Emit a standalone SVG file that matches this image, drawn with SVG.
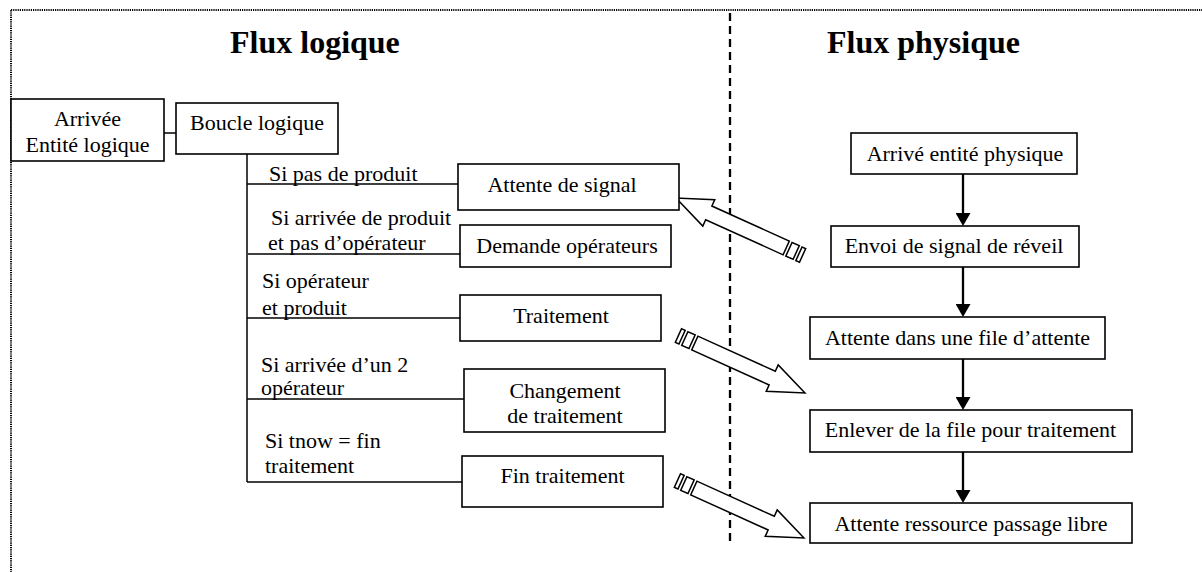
<svg xmlns="http://www.w3.org/2000/svg" width="1202" height="572" viewBox="0 0 1202 572">
<style>
  .box { fill: #ffffff; stroke: #000000; stroke-width: 1.6; }
  .t { font-family: "Liberation Serif", "Times New Roman", serif; font-size: 22px; fill: #000000; }
  .c { text-anchor: middle; }
  .title { font-family: "Liberation Serif", "Times New Roman", serif; font-size: 32px; font-weight: bold; fill: #000000; }
  .line { stroke: #000000; stroke-width: 1.5; fill: none; }
  .flow { stroke: #000000; stroke-width: 2.3; fill: none; marker-end: url(#head); }
  .blk { fill: #ffffff; stroke: #000000; stroke-width: 1.5; stroke-linejoin: miter; }
</style>
<defs>
  <marker id="head" markerUnits="userSpaceOnUse" viewBox="0 0 13 15" refX="3" refY="7.5" markerWidth="13" markerHeight="15" orient="auto">
    <path d="M0,0 L13,7.5 L0,15 Z" fill="#000000"/>
  </marker>
  <g id="striped-arrow">
    <path class="blk" d="M0,0 L-36,-14.5 L-36,-7.5 L-121,-7.5 L-121,7.5 L-36,7.5 L-36,14.5 Z"/>
    <rect class="blk" x="-132" y="-7.5" width="8" height="15"/>
    <rect class="blk" x="-139" y="-7.5" width="4" height="15"/>
  </g>
</defs>
<rect width="1202" height="572" fill="#ffffff"/>
<rect x="11" y="10" width="1230" height="600" fill="none" stroke="#000000" stroke-width="2" stroke-dasharray="1.2 1"/>
<line x1="730" y1="13" x2="730" y2="543" stroke="#000000" stroke-width="2.3" stroke-dasharray="8 5"/>
<text class="title" x="230" y="53">Flux logique</text>
<text class="title" x="827" y="53">Flux physique</text>

<g id="connectors">
  <line class="line" x1="156" y1="133" x2="176" y2="133"/>
  <line class="line" x1="247" y1="154" x2="247" y2="482"/>
  <line class="line" x1="247" y1="184" x2="458" y2="184"/>
  <line class="line" x1="248" y1="254" x2="460" y2="254"/>
  <line class="line" x1="247" y1="318" x2="460" y2="318"/>
  <line class="line" x1="247" y1="399" x2="464" y2="399"/>
  <line class="line" x1="247" y1="482" x2="462" y2="482"/>
  <line class="flow" x1="963" y1="174" x2="963" y2="216"/>
  <line class="flow" x1="963" y1="267" x2="963" y2="307"/>
  <line class="flow" x1="963" y1="359" x2="963" y2="400"/>
  <line class="flow" x1="963" y1="452" x2="963" y2="493"/>
  <use href="#striped-arrow" transform="translate(676,198) rotate(204.4)"/>
  <use href="#striped-arrow" transform="translate(805,393) rotate(24.4)"/>
  <use href="#striped-arrow" transform="translate(804,538) rotate(24.4)"/>
</g>

<g id="branch-labels">
  <text class="t" x="269" y="181">Si pas de produit</text>
  <text class="t" x="271" y="225">Si arrivée de produit</text>
  <text class="t" x="268" y="250">et pas d’opérateur</text>
  <text class="t" x="262" y="288">Si opérateur</text>
  <text class="t" x="262" y="315">et produit</text>
  <text class="t" x="261" y="372">Si arrivée d’un 2</text>
  <text class="t" x="261" y="395">opérateur</text>
  <text class="t" x="265" y="448">Si tnow = fin</text>
  <text class="t" x="265" y="473">traitement</text>
</g>

<g id="arrivee-logique">
  <rect class="box" x="11" y="99" width="153" height="62"/>
  <text class="t c" x="87.5" y="126">Arrivée</text>
  <text class="t c" x="87.5" y="152">Entité logique</text>
</g>
<g id="boucle-logique">
  <rect class="box" x="176" y="103" width="162" height="51"/>
  <text class="t c" x="257" y="130">Boucle logique</text>
</g>
<g id="attente-signal">
  <rect class="box" x="458" y="164" width="221" height="46"/>
  <text class="t c" x="562" y="192">Attente de signal</text>
</g>
<g id="demande-operateurs">
  <rect class="box" x="460" y="225" width="211" height="42"/>
  <text class="t c" x="567" y="253">Demande opérateurs</text>
</g>
<g id="traitement">
  <rect class="box" x="460" y="295" width="201" height="46"/>
  <text class="t c" x="561" y="323">Traitement</text>
</g>
<g id="changement-traitement">
  <rect class="box" x="464" y="369" width="201" height="63"/>
  <text class="t c" x="565" y="398">Changement</text>
  <text class="t c" x="565" y="423">de traitement</text>
</g>
<g id="fin-traitement">
  <rect class="box" x="462" y="456" width="201" height="51"/>
  <text class="t c" x="562.5" y="483">Fin traitement</text>
</g>

<g id="arrive-entite-physique">
  <rect class="box" x="851" y="133" width="226" height="41"/>
  <text class="t c" x="965" y="161">Arrivé entité physique</text>
</g>
<g id="envoi-signal">
  <rect class="box" x="831" y="226" width="248" height="41"/>
  <text class="t c" x="954" y="253">Envoi de signal de réveil</text>
</g>
<g id="attente-file">
  <rect class="box" x="810" y="317" width="295" height="42"/>
  <text class="t c" x="957.5" y="345">Attente dans une file d’attente</text>
</g>
<g id="enlever-file">
  <rect class="box" x="810" y="410" width="322" height="42"/>
  <text class="t c" x="970.5" y="437">Enlever de la file pour traitement</text>
</g>
<g id="attente-ressource">
  <rect class="box" x="810" y="503" width="322" height="40"/>
  <text class="t c" x="971" y="531">Attente ressource passage libre</text>
</g>
</svg>
